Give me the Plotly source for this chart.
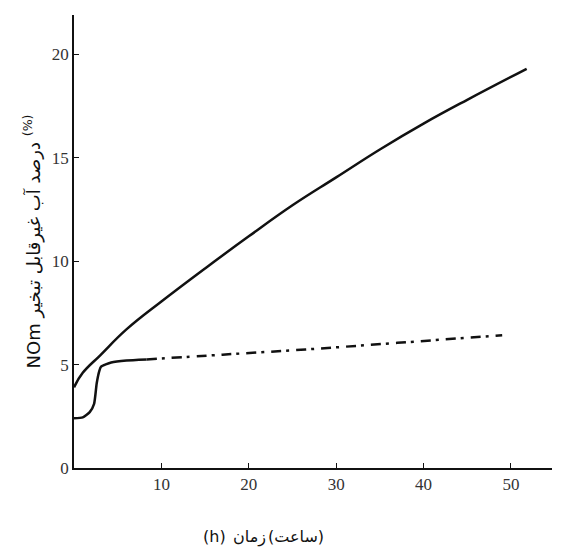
import plotly.graph_objects as go

# Upper curve (solid)
t_upper = [0, 1, 3, 6, 10, 15, 20, 25, 30, 35, 40, 45, 51.8]
y_upper = [3.9, 4.6, 5.45, 6.7, 8.05, 9.65, 11.2, 12.7, 14.05, 15.4, 16.65, 17.8, 19.3]

# Lower curve: solid start, then dash-dot tail
t_lower_solid = [0, 1, 1.8, 2.3, 2.6, 2.9, 3.1, 4.25, 6, 8.3]
y_lower_solid = [2.4, 2.45, 2.7, 3.1, 4.1, 4.7, 4.9, 5.1, 5.2, 5.25]
t_lower_dash = [8.3, 17, 26.5, 37, 49]
y_lower_dash = [5.25, 5.48, 5.73, 6.05, 6.42]

x_ticks = [10, 20, 30, 40, 50]
y_ticks = [0, 5, 10, 15, 20]

line_col = "#111111"

fig = go.Figure()

fig.add_trace(go.Scatter(
    x=t_upper, y=y_upper, mode="lines",
    line=dict(color=line_col, width=2.5, shape="spline", smoothing=1.2),
    showlegend=False, hoverinfo="skip",
))
fig.add_trace(go.Scatter(
    x=t_lower_solid, y=y_lower_solid, mode="lines",
    line=dict(color=line_col, width=2.5, shape="spline", smoothing=0.5),
    showlegend=False, hoverinfo="skip",
))
fig.add_trace(go.Scatter(
    x=t_lower_dash, y=y_lower_dash, mode="lines",
    line=dict(color=line_col, width=2.5, dash="10px,5px,3px,7px", shape="spline", smoothing=1.0),
    showlegend=False, hoverinfo="skip",
))

tick_font = dict(family='Liberation Serif, "Times New Roman", serif', size=17, color="#333333")
title_font = dict(family="DejaVu Sans", size=16, color="#111111")

# page has an 8px body margin, so the figure is sized/margined to land on the same pixels
fig.update_layout(
    width=574,
    height=551,
    margin=dict(l=66, r=30, t=7, b=91),
    plot_bgcolor="white",
    paper_bgcolor="white",
    xaxis=dict(
        range=[0, 54.7],
        tickvals=x_ticks,
        ticks="inside", ticklen=5, tickcolor=line_col, tickwidth=1.2,
        showline=True, linecolor=line_col, linewidth=1.5,
        showgrid=False, zeroline=False,
        tickfont=tick_font,
    ),
    yaxis=dict(
        range=[0, 21.9],
        tickvals=y_ticks,
        ticks="inside", ticklen=5, tickcolor=line_col, tickwidth=1.2,
        showline=True, linecolor=line_col, linewidth=1.5,
        showgrid=False, zeroline=False,
        tickfont=tick_font,
    ),
)

# x axis title, in three pieces so the mixed-direction order stays as printed
fig.add_annotation(
    x=0.322, y=-0.152, xref="paper", yref="paper",
    xanchor="right", yanchor="middle",
    text="(h)", showarrow=False, font=title_font,
)
fig.add_annotation(
    x=0.329, y=-0.152, xref="paper", yref="paper",
    xanchor="left", yanchor="middle",
    text="زمان", showarrow=False, font=title_font,
)
fig.add_annotation(
    x=0.402, y=-0.152, xref="paper", yref="paper",
    xanchor="left", yanchor="middle",
    text="(ساعت)", showarrow=False, font=title_font,
)

# y axis title
fig.add_annotation(
    x=-0.086, y=0.50, xref="paper", yref="paper",
    xanchor="center", yanchor="middle",
    text="NOm درصد آب غیرقابل تبخیر <sup>(%)</sup>",
    textangle=-90,
    showarrow=False,
    font=dict(family="DejaVu Sans", size=18, color="#111111"),
)

fig.write_html("out.html")
